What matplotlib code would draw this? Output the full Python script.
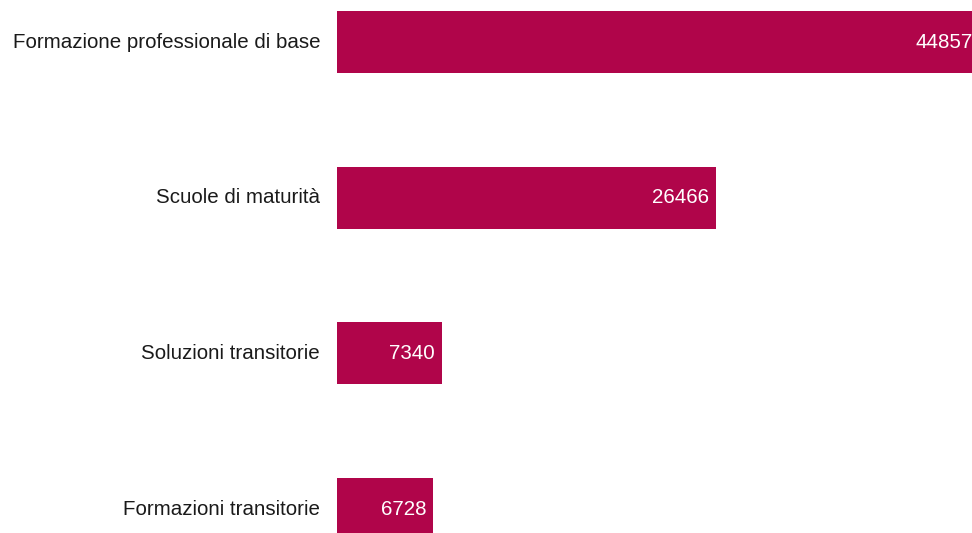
import matplotlib
matplotlib.use("Agg")
import matplotlib.pyplot as plt

plt.rcParams["font.family"] = ["Liberation Sans", "DejaVu Sans"]

categories = ["Formazione professionale di base", "Scuole di maturità",
              "Soluzioni transitorie", "Formazioni transitorie"]
values = [44857, 26466, 7340, 6728]

bar_color = "#B0054A"

fig = plt.figure(figsize=(9.72, 5.33), dpi=100)
ax = fig.add_axes([337 / 972, 0, 1 - 337 / 972, 1])

pos = list(range(len(categories)))
ax.barh(pos, values, height=0.4, color=bar_color)

# axis range chosen so the longest bar runs past the right edge, as in the original
ax.set_xlim(0, 44344)
ax.set_ylim(3.154, -0.27)

for y, name, v in zip(pos, categories, values):
    ax.annotate(name, xy=(0, y), xytext=(-17, 0), textcoords="offset pixels",
                ha="right", va="center", fontsize=14.8, color="#1a1a1a",
                annotation_clip=False)
    ax.annotate(str(v), xy=(v, y), xytext=(-7, 0), textcoords="offset pixels",
                ha="right", va="center", fontsize=14.8, color="white",
                annotation_clip=False)

ax.axis("off")
fig.savefig("out.png", dpi=100)
